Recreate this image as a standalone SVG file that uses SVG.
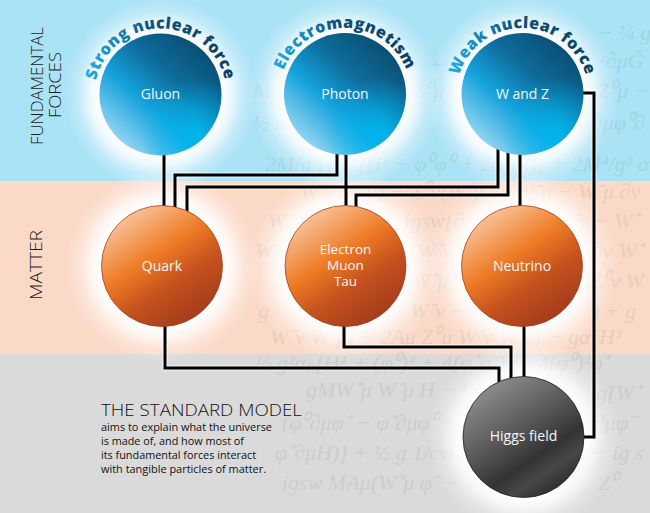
<svg xmlns="http://www.w3.org/2000/svg" width="650" height="513" viewBox="0 0 650 513">
<defs>
<style>
.eq{font-family:"Liberation Serif",serif;font-style:italic;font-size:22px;fill:#777;opacity:0.13}
.lbl{font-family:"Open Sans","Noto Sans",sans-serif;font-size:14px;fill:#f2f8fc;text-anchor:middle}
.lbl3{font-family:"Open Sans","Noto Sans",sans-serif;font-size:13.5px;fill:#f2f8fc;text-anchor:middle}
.side{font-family:"Open Sans","Noto Sans",sans-serif;font-weight:300;font-size:17px;fill:#1a1a1a;text-anchor:middle}
.arc{font-family:"Open Sans","Noto Sans",sans-serif;font-weight:800;font-size:16px;letter-spacing:0.5px;text-anchor:middle}
.wire{fill:none;stroke:#000;stroke-width:3;stroke-linejoin:miter}
.halo{fill:none;stroke:#fff;stroke-width:5.5;stroke-opacity:0.55}
.title{font-family:"Open Sans","Noto Sans",sans-serif;font-weight:300;font-size:17px;fill:#111}
.body{font-family:"Open Sans","Noto Sans",sans-serif;font-size:10.5px;fill:#111}
</style>
<radialGradient id="glow" cx="0.5" cy="0.5" r="0.5">
<stop offset="0" stop-color="#fff" stop-opacity="1"/>
<stop offset="0.62" stop-color="#fff" stop-opacity="1"/>
<stop offset="0.72" stop-color="#fff" stop-opacity="0.8"/>
<stop offset="0.85" stop-color="#fff" stop-opacity="0.3"/>
<stop offset="1" stop-color="#fff" stop-opacity="0"/>
</radialGradient>
<linearGradient id="blue" x1="0.9" y1="0.1" x2="0.15" y2="0.95">
<stop offset="0" stop-color="#0a4a6c"/>
<stop offset="0.35" stop-color="#0e6c9c"/>
<stop offset="0.62" stop-color="#14a2dc"/>
<stop offset="1" stop-color="#a6dcf4"/>
</linearGradient>
<radialGradient id="blueHi" cx="0.78" cy="0.82" r="0.45">
<stop offset="0" stop-color="#00b8f0" stop-opacity="0.9"/>
<stop offset="1" stop-color="#00b8f0" stop-opacity="0"/>
</radialGradient>
<linearGradient id="orange" x1="0.2" y1="0.05" x2="0.8" y2="0.95">
<stop offset="0" stop-color="#f9c7a2"/>
<stop offset="0.4" stop-color="#ee7b25"/>
<stop offset="0.66" stop-color="#c5521e"/>
<stop offset="1" stop-color="#a0391d"/>
</linearGradient>
<linearGradient id="gray" x1="0.2" y1="0.05" x2="0.8" y2="0.95">
<stop offset="0" stop-color="#8f8f8f"/>
<stop offset="0.45" stop-color="#555"/>
<stop offset="0.68" stop-color="#333"/>
<stop offset="0.82" stop-color="#474747"/>
<stop offset="1" stop-color="#2a2a2a"/>
</linearGradient>
<linearGradient id="arcText" x1="0" y1="0" x2="1" y2="0">
<stop offset="0" stop-color="#1fb5ee"/>
<stop offset="0.25" stop-color="#1581b6"/>
<stop offset="0.45" stop-color="#0d5279"/>
<stop offset="1" stop-color="#0b3f60"/>
</linearGradient>
<path id="arcG" d="M98.48,117.07 A66,66 0 1 1 222.52,117.07"/>
<path id="arcP" d="M282.98,116.57 A66,66 0 1 1 407.02,116.57"/>
<path id="arcW" d="M460.48,116.57 A66,66 0 1 1 584.52,116.57"/>
</defs>

<g id="background">
<rect x="0" y="0" width="650" height="181" fill="#aae2f6"/>
<rect x="0" y="181" width="650" height="173" fill="#fbd9c7"/>
<rect x="0" y="354" width="650" height="159" fill="#dadada"/>
</g>

<g id="equations">
<text class="eq" x="598" y="40">− ¼ g</text>
<text class="eq" x="429" y="72">+</text>
<text class="eq" x="600" y="68">ᶜ∂μḠ</text>
<text class="eq" x="253" y="98">M²</text>
<text class="eq" x="413" y="98">Z⁰μ ∂ν</text>
<text class="eq" x="597" y="98">Z⁰μ −</text>
<text class="eq" x="253" y="130">½ m</text>
<text class="eq" x="592" y="130">∂μφ⁰∂</text>
<text class="eq" x="265" y="171">2M/g H + (H² + φ⁰φ⁰ + 2φ⁺φ⁻)] + 2M⁴/g² αₕ</text>
<text class="eq" x="300" y="199">W⁺ν W⁻μ) − Z⁰ν(W⁺μ ∂ν W⁻μ − W⁻μ ∂ν</text>
<text class="eq" x="268" y="228">W⁻ν ∂ν W⁺μ) − igsw[∂ν Aμ(W⁺μ W⁻ν − W⁺</text>
<text class="eq" x="255" y="258">W</text>
<text class="eq" x="410" y="258">(W⁺ν</text>
<text class="eq" x="592" y="258">∂ν W⁺</text>
<text class="eq" x="412" y="288">W⁺μ W</text>
<text class="eq" x="590" y="288">Z⁰ν W</text>
<text class="eq" x="258" y="318">g</text>
<text class="eq" x="410" y="318">W⁻ν −</text>
<text class="eq" x="592" y="318">) + g</text>
<text class="eq" x="270" y="344">W⁻ν W⁺μ) − 2Aμ Z⁰μ W⁺ν W⁻ν] − gα[H³</text>
<text class="eq" x="255" y="370">½ g²αₕ[H⁴ + (φ⁰)⁴ + 4(φ⁺φ⁻)² + 4(φ⁰)²φ⁺</text>
<text class="eq" x="306" y="397">gMW⁺μ W⁻μ H − ½ g</text>
<text class="eq" x="590" y="400">ig[W⁺</text>
<text class="eq" x="282" y="430">(φ⁰∂μφ⁺ − φ⁺∂μφ⁰</text>
<text class="eq" x="594" y="430">∂μφ⁻</text>
<text class="eq" x="275" y="460">φ⁺∂μH)] + ½ g 1/cw (Z⁰μ</text>
<text class="eq" x="592" y="460">− ig s</text>
<text class="eq" x="282" y="490">igsw MAμ(W⁺μ φ⁻ − W⁻</text>
<text class="eq" x="598" y="490">Z⁰</text>
</g>

<g id="glows">
<circle cx="160.5" cy="94.5" r="97" fill="url(#glow)"/>
<circle cx="345" cy="94" r="97" fill="url(#glow)"/>
<circle cx="522.5" cy="94" r="97" fill="url(#glow)"/>
<circle cx="162" cy="266" r="97" fill="url(#glow)"/>
<circle cx="345.5" cy="266" r="97" fill="url(#glow)"/>
<circle cx="522" cy="266" r="97" fill="url(#glow)"/>
<circle cx="523.5" cy="437" r="97" fill="url(#glow)"/>
</g>

<g id="connectors">
<path class="halo" d="M164,140 V215"/>
<path class="halo" d="M337,140 V175 H175 V215"/>
<path class="halo" d="M346,140 V215"/>
<path class="halo" d="M498,140 V187 H187 V215"/>
<path class="halo" d="M508,140 V195 H356 V215"/>
<path class="halo" d="M520,140 V215"/>
<path class="halo" d="M575,93 H594 V437 H575"/>
<path class="halo" d="M165,320 V368 H499 V385"/>
<path class="halo" d="M344,320 V347 H511 V385"/>
<path class="halo" d="M524,320 V385"/>
<path class="wire" d="M164,140 V215"/>
<path class="wire" d="M337,140 V175 H175 V215"/>
<path class="wire" d="M346,140 V215"/>
<path class="wire" d="M498,140 V187 H187 V215"/>
<path class="wire" d="M508,140 V195 H356 V215"/>
<path class="wire" d="M520,140 V215"/>
<path class="wire" d="M575,93 H594 V437 H575"/>
<path class="wire" d="M165,320 V368 H499 V385"/>
<path class="wire" d="M344,320 V347 H511 V385"/>
<path class="wire" d="M524,320 V385"/>
</g>

<g id="gluon">
<circle cx="160.5" cy="94.5" r="61" fill="url(#blue)"/>
<circle cx="160.5" cy="94.5" r="61" fill="url(#blueHi)"/>
<text class="lbl" x="160.5" y="99">Gluon</text>
<text class="arc" fill="url(#arcText)"><textPath href="#arcG" startOffset="50%">Strong nuclear force</textPath></text>
</g>
<g id="photon">
<circle cx="345" cy="94" r="61" fill="url(#blue)"/>
<circle cx="345" cy="94" r="61" fill="url(#blueHi)"/>
<text class="lbl" x="345" y="99">Photon</text>
<text class="arc" fill="url(#arcText)"><textPath href="#arcP" startOffset="50%">Electromagnetism</textPath></text>
</g>
<g id="wz">
<circle cx="522.5" cy="94" r="61" fill="url(#blue)"/>
<circle cx="522.5" cy="94" r="61" fill="url(#blueHi)"/>
<text class="lbl" x="522.5" y="99">W and Z</text>
<text class="arc" fill="url(#arcText)"><textPath href="#arcW" startOffset="50%">Weak nuclear force</textPath></text>
</g>
<g id="quark">
<circle cx="162" cy="266" r="60.5" fill="url(#orange)" stroke="#a8401c" stroke-width="0.8"/>
<text class="lbl" x="162" y="271">Quark</text>
</g>
<g id="electron">
<circle cx="345.5" cy="266" r="60.5" fill="url(#orange)" stroke="#a8401c" stroke-width="0.8"/>
<text class="lbl3" x="345.5" y="254">Electron</text>
<text class="lbl3" x="345.5" y="270">Muon</text>
<text class="lbl3" x="345.5" y="286">Tau</text>
</g>
<g id="neutrino">
<circle cx="522" cy="266" r="60.5" fill="url(#orange)" stroke="#a8401c" stroke-width="0.8"/>
<text class="lbl" x="522" y="270.5">Neutrino</text>
</g>
<g id="higgs">
<circle cx="523.5" cy="437" r="60.5" fill="url(#gray)" stroke="#222" stroke-width="0.8"/>
<text class="lbl" x="523.5" y="441">Higgs field</text>
</g>

<g id="side-labels">
<text class="side" transform="translate(43,86) rotate(-90)" textLength="118" lengthAdjust="spacingAndGlyphs">FUNDAMENTAL</text>
<text class="side" transform="translate(61,85) rotate(-90)" textLength="66" lengthAdjust="spacingAndGlyphs">FORCES</text>
<text class="side" transform="translate(41.5,265) rotate(-90)" textLength="70" lengthAdjust="spacingAndGlyphs">MATTER</text>
</g>

<g id="caption">
<text class="title" x="101" y="416" textLength="201" lengthAdjust="spacingAndGlyphs">THE STANDARD MODEL</text>
<text class="body" x="101" y="431" textLength="171" lengthAdjust="spacingAndGlyphs">aims to explain what the universe</text>
<text class="body" x="101" y="445" textLength="143" lengthAdjust="spacingAndGlyphs">is made of, and how most of</text>
<text class="body" x="101" y="459" textLength="155" lengthAdjust="spacingAndGlyphs">its fundamental forces interact</text>
<text class="body" x="101" y="473" textLength="165" lengthAdjust="spacingAndGlyphs">with tangible particles of matter.</text>
</g>
</svg>
